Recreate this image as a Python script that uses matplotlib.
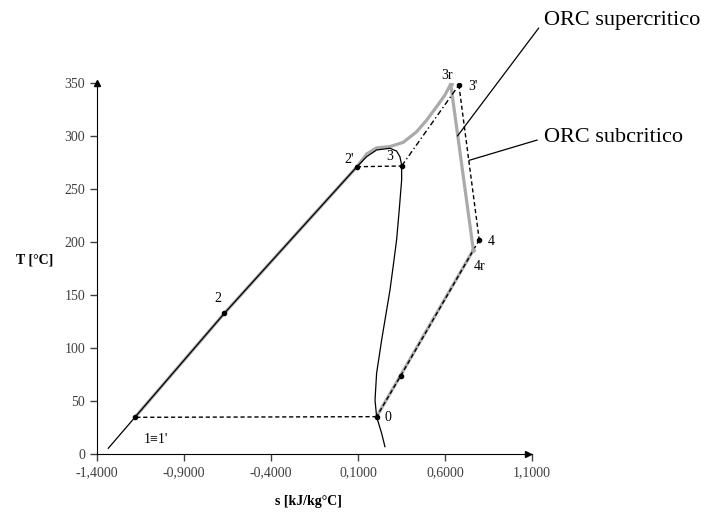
import matplotlib
matplotlib.use("Agg")
import matplotlib.pyplot as plt

plt.rcParams["font.family"] = ["Liberation Serif", "DejaVu Serif"]

# saturation dome (black)
dome_s = [-1.335, -1.182, -0.668, 0.094, 0.150, 0.207, 0.284, 0.322, 0.341, 0.351,
          0.351, 0.337, 0.322, 0.303, 0.284, 0.236, 0.207, 0.198, 0.207, 0.236, 0.255]
dome_T = [5.4, 34.6, 132.7, 271.0, 280.5, 286.8, 288.4, 285.8, 280.5, 272.6,
          258.5, 230.0, 201.9, 178.0, 154.7, 107.5, 76.1, 50.9, 35.2, 19.5, 6.9]

# supercritical cycle (grey): 1 -> 2 -> over the dome -> 3r -> 4r -> 0
sup_s = [-1.182, -0.668, 0.094, 0.150, 0.207, 0.284, 0.360, 0.437, 0.495, 0.552,
         0.600, 0.633, 0.763, 0.207]
sup_T = [34.6, 132.7, 271.0, 283.0, 288.8, 290.0, 294.0, 304.0, 315.0, 327.6,
         338.7, 349.0, 192.5, 35.2]

# subcritical cycle (black dashed)
evap_s, evap_T = [0.094, 0.351], [271.0, 271.7]       # 2' -> 3
sh_s, sh_T = [0.351, 0.680], [271.7, 348.1]           # 3 -> 3'
exp_s, exp_T = [0.680, 0.797], [348.1, 201.9]         # 3' -> 4
rec_s, rec_T = [0.797, 0.345, 0.207], [201.9, 73.6, 35.2]  # 4 -> 0
cond_s, cond_T = [0.207, -1.182], [35.2, 34.6]        # 0 -> 1

# state points
pt_s = [-1.182, -0.668, 0.094, 0.351, 0.680, 0.797, 0.345, 0.207]
pt_T = [34.6, 132.7, 271.0, 271.7, 348.1, 201.9, 73.6, 35.2]

labels = ["1\u22611'", "2", "2'", "3", "3r", "3'", "4", "4r", "0"]
lab_s = [-1.064, -0.703, 0.050, 0.284, 0.610, 0.763, 0.868, 0.797, 0.270]
lab_T = [13.2, 146.9, 277.4, 280.5, 357.5, 346.5, 200.3, 176.7, 34.0]

xticks = [-1.4, -0.9, -0.4, 0.1, 0.6, 1.1]
yticks = [0, 50, 100, 150, 200, 250, 300, 350]

fig = plt.figure(figsize=(7.09, 5.12), dpi=100)
ax = fig.add_axes([0.1368, 0.1133, 0.6135, 0.7246])

ax.plot(sup_s, sup_T, color="#aaaaaa", lw=2.3, zorder=1)
ax.plot(dome_s, dome_T, color="black", lw=0.9, zorder=2)
dash = dict(color="black", lw=1.0, ls=(0, (3, 2)), zorder=3)
ax.plot(evap_s, evap_T, **dash)
ax.plot(sh_s, sh_T, color="black", lw=1.0, ls=(0, (4, 2, 1, 2)), zorder=3)
ax.plot(exp_s, exp_T, **dash)
ax.plot(rec_s, rec_T, **dash)
ax.plot(cond_s, cond_T, **dash)
ax.plot(pt_s, pt_T, "o", color="black", ms=3, zorder=4)
ax.plot([0.633, 0.763], [349.0, 192.5], "o", color="#aaaaaa", ms=2.5, zorder=4)

for lab, s, t in zip(labels, lab_s, lab_T):
    ax.text(s, t, lab, fontsize=10, ha="center", va="center", clip_on=False)

ax.set_xlim(-1.4, 1.1)
ax.set_ylim(0, 350)
ax.set_xticks(xticks)
ax.set_xticklabels([f"{v:.4f}".replace(".", ",") for v in xticks])
ax.set_yticks(yticks)
ax.tick_params(direction="out", length=5, width=1, colors="#404040", labelsize=10)
for side in ("top", "right"):
    ax.spines[side].set_visible(False)
for side in ("left", "bottom"):
    ax.spines[side].set_color("black")
ax.plot(0, 1, "^k", ms=5, transform=ax.transAxes, clip_on=False)
ax.plot(0.99, 0, ">k", ms=4, transform=ax.transAxes, clip_on=False)

fig.text(35 / 709, 1 - 260 / 512, "T [°C]", fontsize=10, fontweight="bold", ha="center", va="center")
fig.text(308 / 709, 1 - 501 / 512, "s [kJ/kg°C]", fontsize=10, fontweight="bold", ha="center", va="center")

line = dict(arrowstyle="-", lw=0.9, color="black", shrinkA=3, shrinkB=0, relpos=(0, 0.5))
ax.annotate("ORC supercritico", xy=(0.672, 300), xytext=(544, 491), textcoords="figure pixels",
            fontsize=16, ha="left", va="center", arrowprops=line)
ax.annotate("ORC subcritico", xy=(0.738, 277), xytext=(544, 374), textcoords="figure pixels",
            fontsize=16, ha="left", va="center", arrowprops=line)

fig.savefig("out.png", dpi=100, facecolor="white")
